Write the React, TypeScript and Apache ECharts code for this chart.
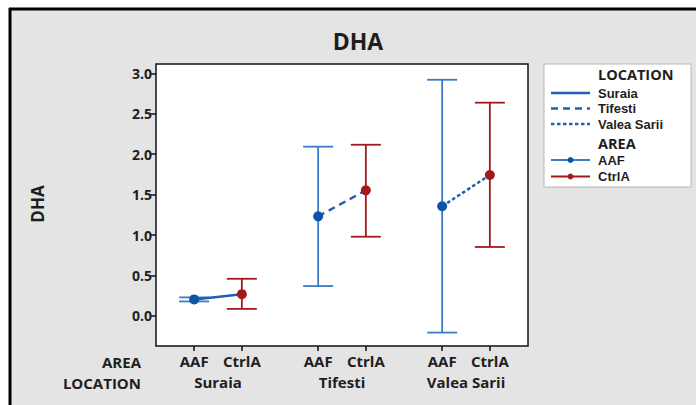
import React, { useEffect, useRef } from "react";
import * as echarts from "echarts";

const areas = ["AAF", "CtrlA"];
const locations = ["Suraia", "Tifesti", "Valea Sarii"];
const locationLineTypes = ["solid", "dashed", "dotted"];

const aafMean = [0.205, 1.232, 1.356];
const aafLow = [0.18, 0.37, -0.205];
const aafHigh = [0.23, 2.093, 2.92];
const ctrlMean = [0.27, 1.553, 1.743];
const ctrlLow = [0.088, 0.98, 0.853];
const ctrlHigh = [0.46, 2.117, 2.637];

const yTicks = [0, 0.5, 1, 1.5, 2, 2.5, 3];

const GROUP_STEP = 2.6;
const FONT = "Open Sans";
const LEG_FONT = "Liberation Sans";
const TEXT = "#1e1e1e";
const BLUE_BAR = "#3a7bc8";
const BLUE_DOT = "#0c55a6";
const BLUE_LINE = "#1f5fb4";
const RED = "#a3191c";

const pos = (loc: number, area: number) => +(loc * GROUP_STEP + area).toFixed(3);

export default function App() {
  const ref = useRef<HTMLDivElement>(null);
  useEffect(() => {
    if (!ref.current) return;
    const chart = echarts.init(ref.current, undefined, { renderer: "svg" });

    const areaTickVals: number[] = [];
    const areaTickNames: Record<string, string> = {};
    locations.forEach((_, li) =>
      areas.forEach((a, ai) => {
        const p = pos(li, ai);
        areaTickVals.push(p);
        areaTickNames[String(p)] = a;
      })
    );
    const locTickVals = locations.map((_, li) => +(li * GROUP_STEP + 0.5).toFixed(3));
    const locNames: Record<string, string> = {};
    locTickVals.forEach((v, i) => (locNames[String(v)] = locations[i]));

    const errRender = (color: string) => (params: any, api: any) => {
      const x = api.value(0);
      const lo = api.coord([x, api.value(1)]);
      const hi = api.coord([x, api.value(2)]);
      const hw = 15;
      const style = { stroke: color, lineWidth: 1.8 };
      return {
        type: "group",
        children: [
          { type: "line", shape: { x1: hi[0], y1: hi[1], x2: lo[0], y2: lo[1] }, style },
          { type: "line", shape: { x1: hi[0] - hw, y1: hi[1], x2: hi[0] + hw, y2: hi[1] }, style },
          { type: "line", shape: { x1: lo[0] - hw, y1: lo[1], x2: lo[0] + hw, y2: lo[1] }, style },
        ],
      };
    };

    const lineDash: Record<string, any> = { solid: "solid", dashed: [7, 5], dotted: [3.5, 2.5] };

    const series: any[] = [
      {
        type: "custom",
        name: "AAF err",
        renderItem: errRender(BLUE_BAR),
        data: locations.map((_, i) => [pos(i, 0), aafLow[i], aafHigh[i]]),
        z: 2,
      },
      {
        type: "custom",
        name: "CtrlA err",
        renderItem: errRender(RED),
        data: locations.map((_, i) => [pos(i, 1), ctrlLow[i], ctrlHigh[i]]),
        z: 2,
      },
      ...locations.map((loc, i) => ({
        type: "line",
        name: loc,
        data: [
          [pos(i, 0), aafMean[i]],
          [pos(i, 1), ctrlMean[i]],
        ],
        symbol: "none",
        lineStyle: { color: BLUE_LINE, width: 2.5, type: lineDash[locationLineTypes[i]] },
        z: 3,
      })),
      {
        type: "scatter",
        name: "AAF",
        data: locations.map((_, i) => [pos(i, 0), aafMean[i]]),
        symbolSize: 10,
        itemStyle: { color: BLUE_DOT, opacity: 1 },
        z: 4,
      },
      {
        type: "scatter",
        name: "CtrlA",
        data: locations.map((_, i) => [pos(i, 1), ctrlMean[i]]),
        symbolSize: 10,
        itemStyle: { color: RED, opacity: 1 },
        z: 4,
      },
    ];

    // legend
    const lx1 = 551, lx2 = 590, tx = 598;
    const hdrFont = `bold 14.5px "${FONT}"`;
    const itemFont = `bold 13px "${LEG_FONT}"`;
    const legendChildren: any[] = [
      { type: "rect", shape: { x: 544, y: 64, width: 147, height: 123 }, style: { fill: "#fff", stroke: "#b8b8b8", lineWidth: 1 } },
      { type: "text", x: tx, y: 74, style: { text: "LOCATION", font: hdrFont, fill: TEXT, verticalAlign: "middle", lineHeight: 14 } },
    ];
    const locY = [93, 108.5, 124];
    locations.forEach((loc, i) => {
      const ld = lineDash[locationLineTypes[i]];
      legendChildren.push({
        type: "line",
        shape: { x1: lx1, y1: locY[i], x2: lx2, y2: locY[i] },
        style: { stroke: BLUE_LINE, lineWidth: 2.5, lineDash: ld === "solid" ? null : ld },
      });
      legendChildren.push({ type: "text", x: tx, y: locY[i], style: { text: loc, font: itemFont, fill: TEXT, verticalAlign: "middle", lineHeight: 13 } });
    });
    legendChildren.push({ type: "text", x: tx, y: 143, style: { text: "AREA", font: hdrFont, fill: TEXT, verticalAlign: "middle", lineHeight: 14 } });
    const areaY = [160, 176.5];
    const areaCol = [[BLUE_BAR, BLUE_DOT], [RED, RED]];
    areas.forEach((a, i) => {
      legendChildren.push({ type: "line", shape: { x1: lx1, y1: areaY[i], x2: lx2, y2: areaY[i] }, style: { stroke: areaCol[i][0], lineWidth: 2 } });
      legendChildren.push({ type: "circle", shape: { cx: (lx1 + lx2) / 2, cy: areaY[i], r: 3 }, style: { fill: areaCol[i][1] } });
      legendChildren.push({ type: "text", x: tx, y: areaY[i], style: { text: a, font: itemFont, fill: TEXT, verticalAlign: "middle", lineHeight: 13 } });
    });

    chart.setOption({
      animation: false,
      backgroundColor: "#ffffff",
      textStyle: { fontFamily: FONT },
      graphic: [
        { type: "rect", z: -100, shape: { x: 9, y: 8, width: 700, height: 410 }, style: { fill: "#e4e4e4" } },
        { type: "line", z: -99, shape: { x1: 9, y1: 9, x2: 700, y2: 9 }, style: { stroke: "#000", lineWidth: 3 } },
        { type: "line", z: -99, shape: { x1: 10, y1: 8, x2: 10, y2: 410 }, style: { stroke: "#000", lineWidth: 3 } },
        { type: "text", x: 358, y: 41, style: { text: "DHA", font: `bold 23px "${FONT}"`, fill: TEXT, align: "center", verticalAlign: "middle" } },
        { type: "text", x: 37, y: 204, rotation: Math.PI / 2, style: { text: "DHA", font: `bold 17px "${FONT}"`, fill: TEXT, align: "center", verticalAlign: "middle" } },
        { type: "text", x: 141, y: 362, style: { text: "AREA", font: `bold 15px "${FONT}"`, fill: TEXT, align: "right", verticalAlign: "middle" } },
        { type: "text", x: 141, y: 382.5, style: { text: "LOCATION", font: `bold 15px "${FONT}"`, fill: TEXT, align: "right", verticalAlign: "middle" } },
        { type: "group", children: legendChildren },
      ],
      grid: {
        left: 156,
        top: 64,
        width: 372,
        height: 282,
        show: true,
        backgroundColor: "#ffffff",
        borderColor: "#111",
        borderWidth: 1.5,
      },
      xAxis: [
        {
          type: "value",
          min: -0.8,
          max: 7.0,
          axisLine: { show: false, onZero: false },
          splitLine: { show: false },
          axisTick: { show: true, customValues: areaTickVals, length: 5, lineStyle: { color: "#111", width: 1.5 } },
          axisLabel: {
            customValues: areaTickVals,
            formatter: (v: number) => areaTickNames[String(+v.toFixed(3))] ?? "",
            color: TEXT,
            fontWeight: "bold",
            fontSize: 15,
            fontFamily: FONT,
            margin: 7,
          },
        },
        {
          type: "value",
          min: -0.8,
          max: 7.0,
          position: "bottom",
          offset: 21,
          axisLine: { show: false, onZero: false },
          splitLine: { show: false },
          axisTick: { show: false },
          axisLabel: {
            customValues: locTickVals,
            formatter: (v: number) => locNames[String(+v.toFixed(3))] ?? "",
            color: TEXT,
            fontWeight: "bold",
            fontSize: 15,
            fontFamily: FONT,
            margin: 7,
          },
        },
      ],
      yAxis: {
        type: "value",
        min: -0.371,
        max: 3.115,
        axisLine: { show: false, onZero: false },
        splitLine: { show: false },
        axisTick: { show: true, customValues: yTicks, length: 5, lineStyle: { color: "#111", width: 1.5 } },
        axisLabel: {
          customValues: yTicks,
          formatter: (v: number) => v.toFixed(1),
          color: TEXT,
          fontWeight: "bold",
          fontSize: 14,
          fontFamily: FONT,
          margin: 4,
        },
      },
      series,
    });
    return () => chart.dispose();
  }, []);
  return <div ref={ref} style={{ position: "fixed", left: 0, top: 0, width: 696, height: 405 }} />;
}
